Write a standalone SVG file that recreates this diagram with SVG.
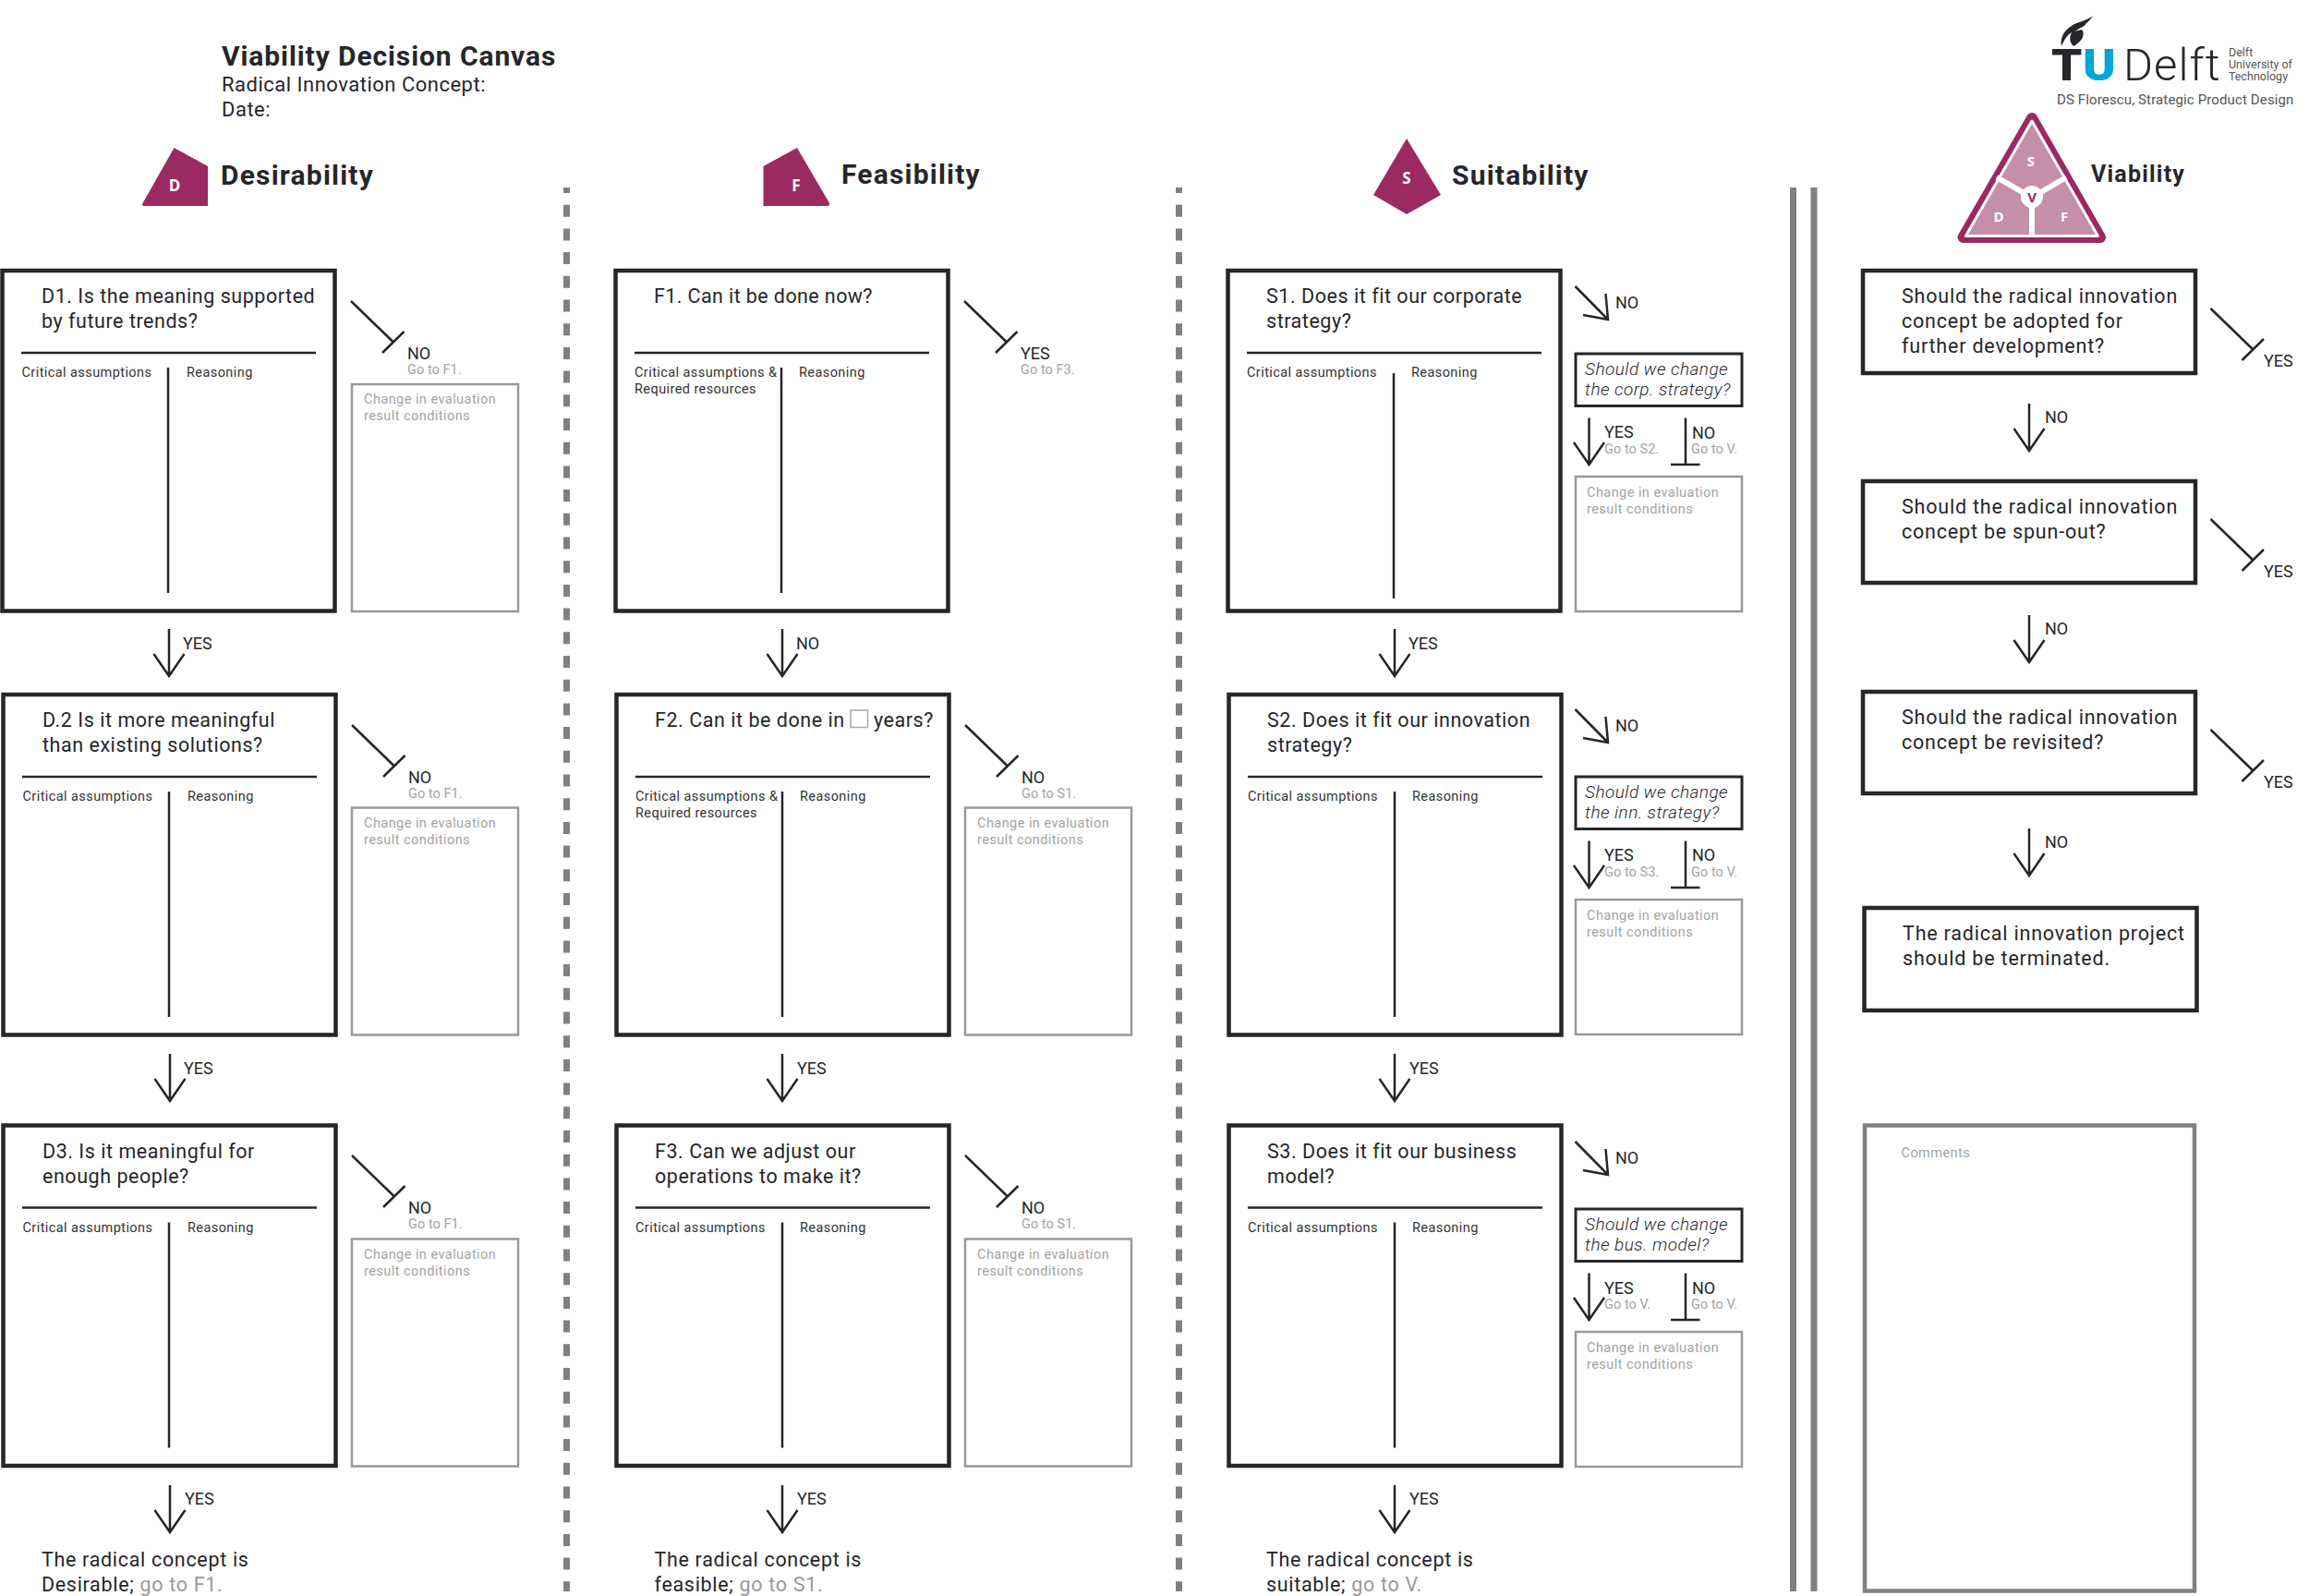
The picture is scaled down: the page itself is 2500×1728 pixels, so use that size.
<svg xmlns="http://www.w3.org/2000/svg" width="2500" height="1728" viewBox="0 0 2500 1728">
<style>
text{font-family:Roboto,"Liberation Sans",sans-serif;fill:#26262a}
.q{font-size:21.5px;letter-spacing:.54px;transform:translateY(1px)}
.qv{letter-spacing:.8px}
.qo{letter-spacing:.68px}
.s{font-size:14.5px;letter-spacing:.42px;fill:#333}
.g{font-size:14.5px;letter-spacing:.45px;fill:#a3a3a3}
.go{font-size:14.5px;letter-spacing:.05px;fill:#a3a3a3}
.l{font-size:18px}
.y{font-size:18px}
.i{font-size:19px;font-style:italic;font-weight:300;letter-spacing:.45px}
.h{font-size:30px;font-weight:700;letter-spacing:1.2px}
.m{font-size:17px;font-weight:700;fill:#fff;text-anchor:middle;font-family:"Open Sans",sans-serif}
.box{fill:#fff;stroke:#26262a;stroke-width:4.5}
.gbox{fill:#fff;stroke:#999;stroke-width:2.5}
.ln{fill:none;stroke:#26262a;stroke-width:2.5}
.c{fill:none;stroke:#26262a;stroke-width:2.5}
.sep{stroke:#808080;stroke-width:7;fill:none}
.mark{fill:#9b2a63}
.qbox{fill:#fff;stroke:#26262a;stroke-width:3}
</style>
<defs>
<g id="card"><rect class="box" x="2.5" y="293" width="360" height="368.5"/><path class="ln" d="M23 382H342"/></g>
<path id="tbar" class="c" d="M0 0L46.5 45M57.5 33L34 56"/>
<path id="down" class="c" d="M0 0V51M-16.5 27L0 51L16.5 27"/>
<path id="diag" class="c" d="M0 0L35.5 36M33 8L35.5 36L8.5 31"/>
<path id="dsmall" class="c" d="M0 0V50.5M-16.5 26.5L0 50.5L16.5 26.5"/>
<path id="tdown" class="c" d="M0 0V50.5M-16 50.5H15.5"/>
</defs>
<g id="separators">
<path class="sep" stroke-dasharray="13 12.7" stroke-dashoffset="7" d="M613.5 203V1723"/>
<path class="sep" stroke-dasharray="13 12.7" stroke-dashoffset="7" d="M1276.5 203V1723"/>
<path class="sep" d="M1941.5 203V1723M1964 203V1723"/>
</g>
<g id="title">
<text x="240" y="71" style="font-size:30px;font-weight:700;letter-spacing:.9px">Viability Decision Canvas</text>
<text x="240" y="99" style="font-size:22px;letter-spacing:.5px">Radical Innovation Concept:</text>
<text x="240" y="126" style="font-size:22px;letter-spacing:.5px">Date:</text>
</g>
<g id="tudelft-logo">
<path fill="#26262a" d="M2266 17C2259 23 2250 23 2243 28C2235 33 2230 41 2232 50C2235 43 2238 38 2243 35C2240 41 2241 46 2245 50C2251 47 2258 40 2255 33C2253 31 2250 33 2247 34C2253 29 2257 29 2259 25C2262 23 2264 20 2266 17Z"/>
<text transform="translate(2221,87) scale(1.08,1)" style="font-size:49px;font-weight:900">T</text>
<text transform="translate(2255,87) scale(1.1,1)" style="font-size:49px;font-weight:900;fill:#00a6d6">U</text>
<text x="2299" y="87" style="font-size:49px;font-weight:300;letter-spacing:1px">Delft</text>
<text x="2413" y="61" style="font-size:12.5px;fill:#555">Delft</text>
<text x="2413" y="74" style="font-size:12.5px;fill:#555">University of</text>
<text x="2413" y="87" style="font-size:12.5px;fill:#555">Technology</text>
<text x="2227" y="113" style="font-size:15px;letter-spacing:.13px;fill:#555">DS Florescu, Strategic Product Design</text>
</g>
<g id="head-desirability">
<path class="mark" d="M188.5 160L225 180V223H156Q153 223 154.500 220Z"/>
<text class="m" x="189" y="207">D</text>
<text class="h" x="239" y="200">Desirability</text>
</g>
<g id="head-feasibility">
<path class="mark" d="M863 160L897.500 219Q899 223 896 223H826.500V180Z"/>
<text class="m" x="862" y="207">F</text>
<text class="h" x="911" y="199">Feasibility</text>
</g>
<g id="head-suitability">
<path class="mark" d="M1523 150L1560 211L1523 232L1487 211Z"/>
<text class="m" x="1523" y="199">S</text>
<text class="h" x="1572" y="200">Suitability</text>
</g>
<g id="head-viability">
<path fill="#9b2a63" stroke="#9b2a63" stroke-width="12" stroke-linejoin="round" d="M2200 128L2274 257H2125.500Z"/>
<path fill="#c48fa8" stroke="#fff" stroke-width="3" stroke-linejoin="round" d="M2200 131L2271.400 255.500H2128.400Z"/>
<path fill="none" stroke="#fff" stroke-width="6" d="M2162 192L2200 214L2237 192M2200 214V256"/>
<circle cx="2200" cy="213" r="12" fill="#fff"/>
<text class="m" x="2200" y="219" style="fill:#9b2a63;font-size:15px">V</text>
<text class="m" x="2199" y="180" style="font-size:15px">S</text>
<text class="m" x="2164" y="240" style="font-size:15px">D</text>
<text class="m" x="2235" y="240" style="font-size:15px">F</text>
<text x="2264" y="197" style="font-size:25px;font-weight:700;letter-spacing:1.2px">Viability</text>
</g>

<g id="D1">
<use href="#card"/><path class="ln" d="M182 398V642"/>
<text class="q" x="45" y="327">D1. Is the meaning supported</text><text class="q" x="45" y="354">by future trends?</text>
<text class="s" x="23.500" y="408">Critical assumptions</text><text class="s" x="202" y="408">Reasoning</text>
</g>
<g id="D2" transform="translate(1,459)">
<use href="#card"/><path class="ln" d="M182 398V642"/>
<text class="q" x="45" y="327">D.2 Is it more meaningful</text><text class="q" x="45" y="354">than existing solutions?</text>
<text class="s" x="23.500" y="408">Critical assumptions</text><text class="s" x="202" y="408">Reasoning</text>
</g>
<g id="D3" transform="translate(1,925.500)">
<use href="#card"/><path class="ln" d="M182 398V642"/>
<text class="q" x="45" y="327">D3. Is it meaningful for</text><text class="q" x="45" y="354">enough people?</text>
<text class="s" x="23.500" y="408">Critical assumptions</text><text class="s" x="202" y="408">Reasoning</text>
</g>
<g id="F1" transform="translate(664,0)">
<use href="#card"/><path class="ln" d="M182 398V642"/>
<text class="q" x="44" y="327" style="letter-spacing:.4px">F1. Can it be done now?</text>
<text class="s" x="23" y="408">Critical assumptions &amp;</text><text class="s" x="23" y="426">Required resources</text><text class="s" x="201" y="408">Reasoning</text>
</g>
<g id="F2" transform="translate(665,459)">
<use href="#card"/><path class="ln" d="M182 398V642"/>
<text class="q" x="44" y="327">F2. Can it be done in</text>
<rect x="256" y="310" width="18.500" height="18.500" fill="#fff" stroke="#aaa" stroke-width="1.5"/>
<text class="q" x="281" y="327">years?</text>
<text class="s" x="23" y="408">Critical assumptions &amp;</text><text class="s" x="23" y="426">Required resources</text><text class="s" x="201" y="408">Reasoning</text>
</g>
<g id="F3" transform="translate(665,925.500)">
<use href="#card"/><path class="ln" d="M182 398V642"/>
<text class="q" x="44" y="327">F3. Can we adjust our</text><text class="q" x="44" y="354">operations to make it?</text>
<text class="s" x="23" y="408">Critical assumptions</text><text class="s" x="201" y="408">Reasoning</text>
</g>
<g id="S1" transform="translate(1327,0)">
<use href="#card"/><path class="ln" d="M182 404V648"/>
<text class="q" x="44" y="327">S1. Does it fit our corporate</text><text class="q" x="44" y="354">strategy?</text>
<text class="s" x="23" y="408">Critical assumptions</text><text class="s" x="201" y="408">Reasoning</text>
</g>
<g id="S2" transform="translate(1328,459)">
<use href="#card"/><path class="ln" d="M182 398V642"/>
<text class="q" x="44" y="327">S2. Does it fit our innovation</text><text class="q" x="44" y="354">strategy?</text>
<text class="s" x="23" y="408">Critical assumptions</text><text class="s" x="201" y="408">Reasoning</text>
</g>
<g id="S3" transform="translate(1328,925.500)">
<use href="#card"/><path class="ln" d="M182 398V642"/>
<text class="q" x="44" y="327">S3. Does it fit our business</text><text class="q" x="44" y="354">model?</text>
<text class="s" x="23" y="408">Critical assumptions</text><text class="s" x="201" y="408">Reasoning</text>
</g>

<g id="D1-change"><rect class="gbox" x="381" y="416" width="180" height="246"/><text class="g" x="394" y="437">Change in evaluation</text><text class="g" x="394" y="455">result conditions</text></g>
<g id="D2-change" transform="translate(0,458.500)"><rect class="gbox" x="381" y="416" width="180" height="246"/><text class="g" x="394" y="437">Change in evaluation</text><text class="g" x="394" y="455">result conditions</text></g>
<g id="D3-change" transform="translate(0,925.500)"><rect class="gbox" x="381" y="416" width="180" height="246"/><text class="g" x="394" y="437">Change in evaluation</text><text class="g" x="394" y="455">result conditions</text></g>
<g id="F2-change" transform="translate(664,458.500)"><rect class="gbox" x="381" y="416" width="180" height="246"/><text class="g" x="394" y="437">Change in evaluation</text><text class="g" x="394" y="455">result conditions</text></g>
<g id="F3-change" transform="translate(664,925.500)"><rect class="gbox" x="381" y="416" width="180" height="246"/><text class="g" x="394" y="437">Change in evaluation</text><text class="g" x="394" y="455">result conditions</text></g>
<g id="S1-change"><rect class="gbox" x="1706" y="516" width="180" height="146"/><text class="g" x="1718" y="538">Change in evaluation</text><text class="g" x="1718" y="556">result conditions</text></g>
<g id="S2-change" transform="translate(0,458)"><rect class="gbox" x="1706" y="516" width="180" height="146"/><text class="g" x="1718" y="538">Change in evaluation</text><text class="g" x="1718" y="556">result conditions</text></g>
<g id="S3-change" transform="translate(0,926)"><rect class="gbox" x="1706" y="516" width="180" height="146"/><text class="g" x="1718" y="538">Change in evaluation</text><text class="g" x="1718" y="556">result conditions</text></g>

<g id="S1-question"><rect class="qbox" x="1706" y="383" width="180" height="56.500"/><text class="i" x="1716" y="405.500">Should we change</text><text class="i" x="1716" y="427.500">the corp. strategy?</text></g>
<g id="S2-question" transform="translate(0,458)"><rect class="qbox" x="1706" y="383" width="180" height="56.500"/><text class="i" x="1716" y="405.500">Should we change</text><text class="i" x="1716" y="427.500">the inn. strategy?</text></g>
<g id="S3-question" transform="translate(0,926)"><rect class="qbox" x="1706" y="383" width="180" height="56.500"/><text class="i" x="1716" y="405.500">Should we change</text><text class="i" x="1716" y="427.500">the bus. model?</text></g>

<g id="V1"><rect class="box" x="2017" y="293" width="360" height="111"/><text class="q qv" x="2059" y="327">Should the radical innovation</text><text class="q qv" x="2059" y="354">concept be adopted for</text><text class="q qv" x="2059" y="381">further development?</text></g>
<g id="V2"><rect class="box" x="2017" y="521" width="360" height="110"/><text class="q qv" x="2059" y="555">Should the radical innovation</text><text class="q qv" x="2059" y="582">concept be spun-out?</text></g>
<g id="V3"><rect class="box" x="2017" y="749" width="360" height="110"/><text class="q qv" x="2059" y="783">Should the radical innovation</text><text class="q qv" x="2059" y="810">concept be revisited?</text></g>
<g id="V4"><rect class="box" x="2018.500" y="983" width="360" height="111"/><text class="q qv" x="2060" y="1017">The radical innovation project</text><text class="q qv" x="2060" y="1044">should be terminated.</text></g>
<g id="comments"><rect x="2019" y="1218.500" width="357" height="504" fill="#fff" stroke="#808080" stroke-width="4.5"/><text class="g" x="2058.500" y="1253">Comments</text></g>

<g id="outcomes">
<text class="q qo" x="45" y="1695">The radical concept is</text><text class="q qo" x="45" y="1722">Desirable; <tspan style="fill:#999">go to F1.</tspan></text>
<text class="q qo" x="708.500" y="1695">The radical concept is</text><text class="q qo" x="708.500" y="1722">feasible; <tspan style="fill:#999">go to S1.</tspan></text>
<text class="q qo" x="1371" y="1695">The radical concept is</text><text class="q qo" x="1371" y="1722">suitable; <tspan style="fill:#999">go to V.</tspan></text>
</g>

<g id="connectors">
<use href="#tbar" x="380" y="326"/><text class="l" x="441" y="389">NO</text><text class="go" x="441" y="405">Go to F1.</text>
<use href="#tbar" x="381" y="785"/><text class="l" x="442" y="848">NO</text><text class="go" x="442" y="864">Go to F1.</text>
<use href="#tbar" x="381" y="1251"/><text class="l" x="442" y="1314">NO</text><text class="go" x="442" y="1330">Go to F1.</text>
<use href="#tbar" x="1044" y="326"/><text class="l" x="1105" y="389">YES</text><text class="go" x="1105" y="405">Go to F3.</text>
<use href="#tbar" x="1045" y="785"/><text class="l" x="1106" y="848">NO</text><text class="go" x="1106" y="864">Go to S1.</text>
<use href="#tbar" x="1045" y="1251"/><text class="l" x="1106" y="1314">NO</text><text class="go" x="1106" y="1330">Go to S1.</text>

<use href="#down" x="183" y="681"/><text class="y" x="198" y="703">YES</text>
<use href="#down" x="184" y="1141"/><text class="y" x="199" y="1163">YES</text>
<use href="#down" x="184" y="1608"/><text class="y" x="200" y="1629">YES</text>
<use href="#down" x="847" y="681"/><text class="y" x="862" y="703">NO</text>
<use href="#down" x="847" y="1141"/><text class="y" x="863" y="1163">YES</text>
<use href="#down" x="847" y="1608"/><text class="y" x="863" y="1629">YES</text>
<use href="#down" x="1510" y="681"/><text class="y" x="1525" y="703">YES</text>
<use href="#down" x="1510" y="1141"/><text class="y" x="1526" y="1163">YES</text>
<use href="#down" x="1510" y="1608"/><text class="y" x="1526" y="1629">YES</text>

<use href="#diag" x="1705.500" y="310"/><text class="l" x="1749" y="334">NO</text>
<use href="#diag" x="1705.500" y="768"/><text class="l" x="1749" y="792">NO</text>
<use href="#diag" x="1705.500" y="1236"/><text class="l" x="1749" y="1260">NO</text>

<use href="#dsmall" x="1720.500" y="452.500"/><text class="l" x="1737" y="474">YES</text><text class="go" x="1737" y="491">Go to S2.</text>
<use href="#tdown" x="1825" y="452.500"/><text class="l" x="1832" y="475">NO</text><text class="go" x="1831" y="491">Go to V.</text>
<use href="#dsmall" x="1720.500" y="910.500"/><text class="l" x="1737" y="932">YES</text><text class="go" x="1737" y="949">Go to S3.</text>
<use href="#tdown" x="1825" y="910.500"/><text class="l" x="1832" y="932">NO</text><text class="go" x="1831" y="949">Go to V.</text>
<use href="#dsmall" x="1720.500" y="1378.500"/><text class="l" x="1737" y="1401">YES</text><text class="go" x="1737" y="1417">Go to V.</text>
<use href="#tdown" x="1825" y="1378.500"/><text class="l" x="1832" y="1401">NO</text><text class="go" x="1831" y="1417">Go to V.</text>

<use href="#tbar" x="2393.500" y="334"/><text class="y" x="2451" y="397">YES</text>
<use href="#tbar" x="2393.500" y="562"/><text class="y" x="2451" y="625">YES</text>
<use href="#tbar" x="2393.500" y="790"/><text class="y" x="2451" y="853">YES</text>
<use href="#down" x="2197" y="437"/><text class="y" x="2214" y="458">NO</text>
<use href="#down" x="2197" y="666"/><text class="y" x="2214" y="687">NO</text>
<use href="#down" x="2197" y="897"/><text class="y" x="2214" y="918">NO</text>
</g>
</svg>
